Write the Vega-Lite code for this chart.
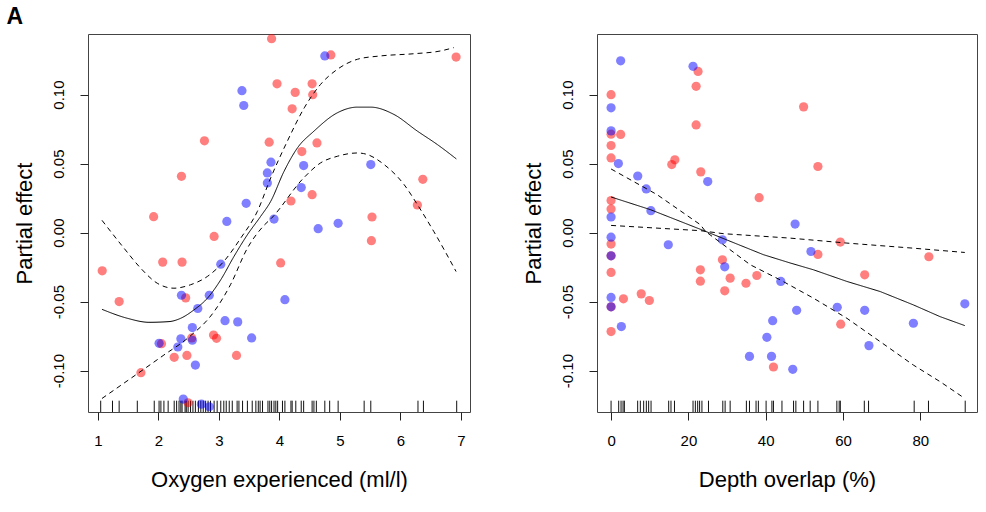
{
  "$schema": "https://vega.github.io/schema/vega-lite/v6.json",
  "padding": {"left": 6, "top": 5, "right": 5, "bottom": 5},
  "title": {"text": "A", "anchor": "start", "frame": "bounds", "fontSize": 23, "fontWeight": "bold", "font": "Liberation Sans", "offset": 5, "dx": -6, "color": "#000"},
  "datasets": {
    "oxyPoints": [
      {"x": 3.87, "y": 0.1405, "g": "red"}, {"x": 3.96, "y": 0.1078, "g": "red"}, {"x": 2.76, "y": 0.0665, "g": "red"}, {"x": 3.83, "y": 0.0655, "g": "red"},
      {"x": 2.38, "y": 0.0408, "g": "red"}, {"x": 1.92, "y": 0.0115, "g": "red"}, {"x": 4.85, "y": 0.1287, "g": "red"}, {"x": 6.92, "y": 0.1272, "g": "red"},
      {"x": 4.54, "y": 0.1078, "g": "red"}, {"x": 4.26, "y": 0.1016, "g": "red"}, {"x": 4.55, "y": 0.0999, "g": "red"}, {"x": 4.21, "y": 0.0897, "g": "red"},
      {"x": 4.62, "y": 0.065, "g": "red"}, {"x": 4.37, "y": 0.0587, "g": "red"}, {"x": 6.37, "y": 0.0386, "g": "red"}, {"x": 4.54, "y": 0.0275, "g": "red"},
      {"x": 4.19, "y": 0.0229, "g": "red"}, {"x": 6.28, "y": 0.02, "g": "red"}, {"x": 5.53, "y": 0.0113, "g": "red"}, {"x": 2.92, "y": -0.0028, "g": "red"},
      {"x": 2.07, "y": -0.0214, "g": "red"}, {"x": 2.39, "y": -0.0214, "g": "red"}, {"x": 1.07, "y": -0.0277, "g": "red"}, {"x": 1.35, "y": -0.05, "g": "red"},
      {"x": 2.45, "y": -0.0473, "g": "red"}, {"x": 2.91, "y": -0.0742, "g": "red"}, {"x": 2.96, "y": -0.0766, "g": "red"}, {"x": 2.55, "y": -0.0763, "g": "red"},
      {"x": 2.05, "y": -0.0805, "g": "red"}, {"x": 2.26, "y": -0.0904, "g": "red"}, {"x": 2.47, "y": -0.089, "g": "red"}, {"x": 3.29, "y": -0.089, "g": "red"},
      {"x": 1.71, "y": -0.1015, "g": "red"}, {"x": 2.49, "y": -0.1233, "g": "red"}, {"x": 4.02, "y": -0.022, "g": "red"}, {"x": 5.52, "y": -0.0059, "g": "red"},
      {"x": 3.38, "y": 0.1028, "g": "blue"}, {"x": 3.41, "y": 0.0921, "g": "blue"}, {"x": 3.86, "y": 0.051, "g": "blue"}, {"x": 3.8, "y": 0.0432, "g": "blue"},
      {"x": 3.8, "y": 0.036, "g": "blue"}, {"x": 3.45, "y": 0.0212, "g": "blue"}, {"x": 3.13, "y": 0.0081, "g": "blue"}, {"x": 3.91, "y": 0.0098, "g": "blue"},
      {"x": 4.75, "y": 0.128, "g": "blue"}, {"x": 4.4, "y": 0.0486, "g": "blue"}, {"x": 5.51, "y": 0.0493, "g": "blue"}, {"x": 4.36, "y": 0.0326, "g": "blue"},
      {"x": 4.97, "y": 0.0067, "g": "blue"}, {"x": 4.64, "y": 0.0028, "g": "blue"}, {"x": 3.03, "y": -0.0229, "g": "blue"}, {"x": 2.38, "y": -0.0454, "g": "blue"},
      {"x": 2.84, "y": -0.0454, "g": "blue"}, {"x": 2.65, "y": -0.055, "g": "blue"}, {"x": 3.1, "y": -0.0638, "g": "blue"}, {"x": 3.31, "y": -0.0647, "g": "blue"},
      {"x": 2.56, "y": -0.0688, "g": "blue"}, {"x": 3.54, "y": -0.0763, "g": "blue"}, {"x": 2.37, "y": -0.077, "g": "blue"}, {"x": 2.56, "y": -0.078, "g": "blue"},
      {"x": 2.01, "y": -0.0802, "g": "blue"}, {"x": 2.32, "y": -0.0829, "g": "blue"}, {"x": 2.61, "y": -0.096, "g": "blue"}, {"x": 2.41, "y": -0.1206, "g": "blue"},
      {"x": 2.71, "y": -0.1243, "g": "blue"}, {"x": 2.84, "y": -0.1262, "g": "blue"}, {"x": 4.09, "y": -0.0486, "g": "blue"}
    ],
    "oxyFit": [
      {"x": 1.066, "y": -0.0556, "c": "fit"}, {"x": 1.486, "y": -0.0621, "c": "fit"}, {"x": 1.843, "y": -0.065, "c": "fit"}, {"x": 2.174, "y": -0.0645, "c": "fit"},
      {"x": 2.367, "y": -0.0621, "c": "fit"}, {"x": 2.587, "y": -0.056, "c": "fit"}, {"x": 2.808, "y": -0.0476, "c": "fit"}, {"x": 3.028, "y": -0.0343, "c": "fit"},
      {"x": 3.248, "y": -0.0173, "c": "fit"}, {"x": 3.471, "y": -0.0015, "c": "fit"}, {"x": 3.69, "y": 0.0118, "c": "fit"}, {"x": 3.855, "y": 0.0226, "c": "fit"},
      {"x": 4.076, "y": 0.0444, "c": "fit"}, {"x": 4.298, "y": 0.0614, "c": "fit"}, {"x": 4.57, "y": 0.0735, "c": "fit"}, {"x": 4.957, "y": 0.0868, "c": "fit"},
      {"x": 5.288, "y": 0.0909, "c": "fit"}, {"x": 5.507, "y": 0.0909, "c": "fit"}, {"x": 5.893, "y": 0.0856, "c": "fit"}, {"x": 6.281, "y": 0.0735, "c": "fit"},
      {"x": 6.61, "y": 0.0638, "c": "fit"}, {"x": 6.924, "y": 0.0534, "c": "fit"},
      {"x": 1.066, "y": 0.0089, "c": "up"}, {"x": 1.43, "y": -0.0113, "c": "up"}, {"x": 1.706, "y": -0.0258, "c": "up"}, {"x": 1.98, "y": -0.0367, "c": "up"},
      {"x": 2.256, "y": -0.0403, "c": "up"}, {"x": 2.53, "y": -0.0378, "c": "up"}, {"x": 2.808, "y": -0.0318, "c": "up"}, {"x": 3.08, "y": -0.0209, "c": "up"},
      {"x": 3.36, "y": -0.004, "c": "up"}, {"x": 3.635, "y": 0.0154, "c": "up"}, {"x": 3.855, "y": 0.0396, "c": "up"}, {"x": 4.13, "y": 0.0662, "c": "up"},
      {"x": 4.41, "y": 0.0904, "c": "up"}, {"x": 4.68, "y": 0.1074, "c": "up"}, {"x": 4.957, "y": 0.1183, "c": "up"}, {"x": 5.29, "y": 0.1256, "c": "up"},
      {"x": 5.67, "y": 0.128, "c": "up"}, {"x": 6.22, "y": 0.1296, "c": "up"}, {"x": 6.66, "y": 0.1316, "c": "up"}, {"x": 6.88, "y": 0.134, "c": "up"},
      {"x": 1.066, "y": -0.1202, "c": "lo"}, {"x": 1.54, "y": -0.1057, "c": "lo"}, {"x": 2.09, "y": -0.0887, "c": "lo"}, {"x": 2.48, "y": -0.0766, "c": "lo"},
      {"x": 2.92, "y": -0.0572, "c": "lo"}, {"x": 3.19, "y": -0.0378, "c": "lo"}, {"x": 3.47, "y": -0.0113, "c": "lo"}, {"x": 3.74, "y": 0.005, "c": "lo"},
      {"x": 3.87, "y": 0.0105, "c": "lo"}, {"x": 4.4, "y": 0.0396, "c": "lo"}, {"x": 4.68, "y": 0.0505, "c": "lo"}, {"x": 4.957, "y": 0.0553, "c": "lo"},
      {"x": 5.29, "y": 0.0577, "c": "lo"}, {"x": 5.45, "y": 0.0566, "c": "lo"}, {"x": 5.73, "y": 0.0493, "c": "lo"}, {"x": 6.06, "y": 0.0348, "c": "lo"},
      {"x": 6.28, "y": 0.0203, "c": "lo"}, {"x": 6.55, "y": 0.0009, "c": "lo"}, {"x": 6.92, "y": -0.0282, "c": "lo"}
    ],
    "oxyRug": [
      {"x": 1.045}, {"x": 1.24}, {"x": 1.35}, {"x": 1.65}, {"x": 1.93}, {"x": 2.01}, {"x": 2.04}, {"x": 2.09}, {"x": 2.16}, {"x": 2.26},
      {"x": 2.3}, {"x": 2.34}, {"x": 2.37}, {"x": 2.39}, {"x": 2.44}, {"x": 2.46}, {"x": 2.49}, {"x": 2.53}, {"x": 2.57}, {"x": 2.61},
      {"x": 2.66}, {"x": 2.7}, {"x": 2.74}, {"x": 2.78}, {"x": 2.82}, {"x": 2.86}, {"x": 2.92}, {"x": 2.97}, {"x": 3.03}, {"x": 3.08},
      {"x": 3.12}, {"x": 3.17}, {"x": 3.22}, {"x": 3.3}, {"x": 3.33}, {"x": 3.39}, {"x": 3.47}, {"x": 3.55}, {"x": 3.61}, {"x": 3.65},
      {"x": 3.68}, {"x": 3.72}, {"x": 3.81}, {"x": 3.84}, {"x": 3.87}, {"x": 3.91}, {"x": 3.94}, {"x": 3.97}, {"x": 4.05}, {"x": 4.09},
      {"x": 4.19}, {"x": 4.21}, {"x": 4.27}, {"x": 4.36}, {"x": 4.4}, {"x": 4.54}, {"x": 4.57}, {"x": 4.61}, {"x": 4.75}, {"x": 4.83},
      {"x": 4.97}, {"x": 5.4}, {"x": 5.51}, {"x": 6.29}, {"x": 6.38}, {"x": 6.93}
    ],
    "depPoints": [
      {"x": 22.5, "y": 0.1168, "g": "red"}, {"x": 22.0, "y": 0.106, "g": "red"}, {"x": 0, "y": 0.0999, "g": "red"}, {"x": 22.0, "y": 0.078, "g": "red"},
      {"x": 0, "y": 0.0713, "g": "red"}, {"x": 2.48, "y": 0.0711, "g": "red"}, {"x": 0, "y": 0.0631, "g": "red"}, {"x": 0, "y": 0.0541, "g": "red"},
      {"x": 16.5, "y": 0.0527, "g": "red"}, {"x": 15.7, "y": 0.0493, "g": "red"}, {"x": 23.2, "y": 0.044, "g": "red"}, {"x": 38.3, "y": 0.0253, "g": "red"},
      {"x": 0, "y": 0.0232, "g": "red"}, {"x": 0, "y": 0.0171, "g": "red"}, {"x": 49.8, "y": 0.0911, "g": "red"}, {"x": 53.5, "y": 0.0479, "g": "red"},
      {"x": 0, "y": -0.0083, "g": "red"}, {"x": 0, "y": -0.0168, "g": "red"}, {"x": 0, "y": -0.0289, "g": "red"}, {"x": 28.8, "y": -0.0197, "g": "red"},
      {"x": 23.1, "y": -0.027, "g": "red"}, {"x": 23.1, "y": -0.0352, "g": "red"}, {"x": 30.8, "y": -0.033, "g": "red"}, {"x": 29.4, "y": -0.0422, "g": "red"},
      {"x": 34.9, "y": -0.0367, "g": "red"}, {"x": 37.7, "y": -0.0311, "g": "red"}, {"x": 0, "y": -0.0538, "g": "red"}, {"x": 3.2, "y": -0.048, "g": "red"},
      {"x": 7.8, "y": -0.0444, "g": "red"}, {"x": 9.9, "y": -0.0492, "g": "red"}, {"x": 0, "y": -0.0717, "g": "red"}, {"x": 42.0, "y": -0.0974, "g": "red"},
      {"x": 59.3, "y": -0.0069, "g": "red"}, {"x": 53.5, "y": -0.0158, "g": "red"}, {"x": 82.2, "y": -0.0175, "g": "red"}, {"x": 65.6, "y": -0.0306, "g": "red"},
      {"x": 59.4, "y": -0.0664, "g": "red"},
      {"x": 2.48, "y": 0.1245, "g": "blue"}, {"x": 21.2, "y": 0.1205, "g": "blue"}, {"x": 0, "y": 0.0904, "g": "blue"}, {"x": 0, "y": 0.0737, "g": "blue"},
      {"x": 1.89, "y": 0.05, "g": "blue"}, {"x": 25.0, "y": 0.037, "g": "blue"}, {"x": 6.9, "y": 0.041, "g": "blue"}, {"x": 9.1, "y": 0.0316, "g": "blue"},
      {"x": 10.3, "y": 0.0159, "g": "blue"}, {"x": 0, "y": 0.0113, "g": "blue"}, {"x": 47.6, "y": 0.0062, "g": "blue"}, {"x": 0, "y": -0.0033, "g": "blue"},
      {"x": 0, "y": -0.0168, "g": "blue"}, {"x": 14.8, "y": -0.0088, "g": "blue"}, {"x": 29.4, "y": -0.0248, "g": "blue"}, {"x": 28.8, "y": -0.0052, "g": "blue"},
      {"x": 43.9, "y": -0.0354, "g": "blue"}, {"x": 0, "y": -0.047, "g": "blue"}, {"x": 0, "y": -0.0538, "g": "blue"}, {"x": 2.66, "y": -0.0681, "g": "blue"},
      {"x": 41.8, "y": -0.0638, "g": "blue"}, {"x": 40.3, "y": -0.0759, "g": "blue"}, {"x": 35.8, "y": -0.0897, "g": "blue"}, {"x": 41.5, "y": -0.0897, "g": "blue"},
      {"x": 47.0, "y": -0.0991, "g": "blue"}, {"x": 51.7, "y": -0.0137, "g": "blue"}, {"x": 48.0, "y": -0.0563, "g": "blue"}, {"x": 58.5, "y": -0.0541, "g": "blue"},
      {"x": 65.6, "y": -0.0563, "g": "blue"}, {"x": 91.5, "y": -0.0516, "g": "blue"}, {"x": 78.2, "y": -0.0657, "g": "blue"}, {"x": 66.7, "y": -0.0819, "g": "blue"}
    ],
    "depFit": [
      {"x": 0, "y": 0.0258, "c": "fit"}, {"x": 10.2, "y": 0.0166, "c": "fit"}, {"x": 23.9, "y": 0.0015, "c": "fit"}, {"x": 39.4, "y": -0.016, "c": "fit"},
      {"x": 46.3, "y": -0.022, "c": "fit"}, {"x": 52.4, "y": -0.027, "c": "fit"}, {"x": 61, "y": -0.0354, "c": "fit"}, {"x": 69.6, "y": -0.0427, "c": "fit"},
      {"x": 78.2, "y": -0.0524, "c": "fit"}, {"x": 85.1, "y": -0.0609, "c": "fit"}, {"x": 91.5, "y": -0.0674, "c": "fit"},
      {"x": 0, "y": 0.0461, "c": "up"}, {"x": 11.9, "y": 0.0275, "c": "up"}, {"x": 23.1, "y": 0.0057, "c": "up"}, {"x": 24.4, "y": 0.0009, "c": "up"},
      {"x": 36, "y": -0.0233, "c": "up"}, {"x": 43.7, "y": -0.0342, "c": "up"}, {"x": 52.4, "y": -0.0476, "c": "up"}, {"x": 61, "y": -0.0621, "c": "up"},
      {"x": 69.6, "y": -0.079, "c": "up"}, {"x": 78.2, "y": -0.096, "c": "up"}, {"x": 85.1, "y": -0.108, "c": "up"}, {"x": 91.5, "y": -0.1202, "c": "up"},
      {"x": 0, "y": 0.0052, "c": "lo"}, {"x": 23.1, "y": 0.0014, "c": "lo"}, {"x": 29.1, "y": -0.0008, "c": "lo"}, {"x": 46.3, "y": -0.004, "c": "lo"},
      {"x": 61, "y": -0.0076, "c": "lo"}, {"x": 78.2, "y": -0.0113, "c": "lo"}, {"x": 91.5, "y": -0.0144, "c": "lo"}
    ],
    "depRug": [
      {"x": 0}, {"x": 1.97}, {"x": 2.58}, {"x": 3.1}, {"x": 3.44}, {"x": 6.88}, {"x": 7.57}, {"x": 8.43}, {"x": 9.12}, {"x": 9.72},
      {"x": 10.34}, {"x": 14.9}, {"x": 15.5}, {"x": 16.4}, {"x": 21.2}, {"x": 21.8}, {"x": 22.4}, {"x": 22.9}, {"x": 23.5}, {"x": 25.2},
      {"x": 28.9}, {"x": 29.5}, {"x": 30.8}, {"x": 35.0}, {"x": 35.8}, {"x": 37.5}, {"x": 38.1}, {"x": 40.1}, {"x": 41.6}, {"x": 42.0},
      {"x": 44.2}, {"x": 47.2}, {"x": 47.8}, {"x": 49.8}, {"x": 51.5}, {"x": 53.5}, {"x": 58.4}, {"x": 59.0}, {"x": 59.3}, {"x": 65.5},
      {"x": 66.6}, {"x": 78.4}, {"x": 82.1}, {"x": 91.6}
    ]
  },
  "hconcat": [
    {
      "width": 382,
      "height": 378,
      "layer": [
        {
          "data": {"name": "oxyRug"},
          "mark": {"type": "rule", "color": "#111", "strokeWidth": 1},
          "encoding": {
            "x": {"field": "x", "type": "quantitative"},
            "y": {"datum": -0.13},
            "y2": {"datum": -0.1218}
          }
        },
        {
          "data": {"name": "oxyPoints"},
          "mark": {"type": "circle", "size": 85, "opacity": 0.5, "clip": true},
          "encoding": {
            "x": {"field": "x", "type": "quantitative"},
            "y": {"field": "y", "type": "quantitative"},
            "color": {"field": "g", "type": "nominal", "scale": {"domain": ["red", "blue"], "range": ["#ff0000", "#0000ff"]}, "legend": null}
          }
        },
        {
          "data": {"name": "oxyFit"},
          "mark": {"type": "line", "color": "#000", "strokeWidth": 1, "interpolate": "monotone"},
          "encoding": {
            "x": {"field": "x", "type": "quantitative", "scale": {"domain": [0.835, 7.15], "nice": false, "zero": false},
                  "axis": {"values": [1, 2, 3, 4, 5, 6, 7], "format": "d", "title": "Oxygen experienced (ml/l)"}},
            "y": {"field": "y", "type": "quantitative", "scale": {"domain": [-0.13, 0.1439], "nice": false, "zero": false},
                  "axis": {"values": [-0.1, -0.05, 0, 0.05, 0.1], "title": "Partial effect"}},
            "detail": {"field": "c"},
            "strokeDash": {"field": "c", "type": "nominal", "scale": {"domain": ["fit", "up", "lo"], "range": [[1, 0], [5, 4], [5, 4]]}, "legend": null}
          }
        }
      ]
    },
    {
      "width": 380,
      "height": 378,
      "layer": [
        {
          "data": {"name": "depRug"},
          "mark": {"type": "rule", "color": "#111", "strokeWidth": 1},
          "encoding": {
            "x": {"field": "x", "type": "quantitative"},
            "y": {"datum": -0.13},
            "y2": {"datum": -0.1218}
          }
        },
        {
          "data": {"name": "depPoints"},
          "mark": {"type": "circle", "size": 85, "opacity": 0.5, "clip": true},
          "encoding": {
            "x": {"field": "x", "type": "quantitative"},
            "y": {"field": "y", "type": "quantitative"},
            "color": {"field": "g", "type": "nominal", "scale": {"domain": ["red", "blue"], "range": ["#ff0000", "#0000ff"]}, "legend": null}
          }
        },
        {
          "data": {"name": "depFit"},
          "mark": {"type": "line", "color": "#000", "strokeWidth": 1},
          "encoding": {
            "x": {"field": "x", "type": "quantitative", "scale": {"domain": [-3.64, 94.65], "nice": false, "zero": false},
                  "axis": {"values": [0, 20, 40, 60, 80], "format": "d", "title": "Depth overlap (%)"}},
            "y": {"field": "y", "type": "quantitative", "scale": {"domain": [-0.13, 0.1439], "nice": false, "zero": false},
                  "axis": {"values": [-0.1, -0.05, 0, 0.05, 0.1], "title": "Partial effect"}},
            "detail": {"field": "c"},
            "strokeDash": {"field": "c", "type": "nominal", "scale": {"domain": ["fit", "up", "lo"], "range": [[1, 0], [5, 4], [5, 4]]}, "legend": null}
          }
        }
      ]
    }
  ],
  "spacing": 127,
  "bounds": "flush",
  "resolve": {"scale": {"x": "independent", "y": "independent"}},
  "config": {
    "font": "Liberation Sans",
    "view": {"stroke": "#444", "strokeWidth": 1},
    "axis": {
      "grid": false,
      "domain": false,
      "tickColor": "#222",
      "tickSize": 8,
      "labelFont": "Liberation Sans",
      "labelFontSize": 15,
      "labelColor": "#000",
      "labelOverlap": false,
      "labelFlush": false,
      "titleFont": "Liberation Sans",
      "titleFontSize": 22,
      "titleFontWeight": "normal",
      "titleColor": "#000"
    },
    "axisX": {"labelPadding": 13, "titlePadding": 21},
    "axisY": {
      "labelAngle": -90,
      "labelAlign": "center",
      "labelBaseline": "bottom",
      "labelPadding": 14,
      "titlePadding": 15,
      "labelExpr": "replace(format(datum.value, '.2f'), '\u2212', '-')"
    }
  }
}
